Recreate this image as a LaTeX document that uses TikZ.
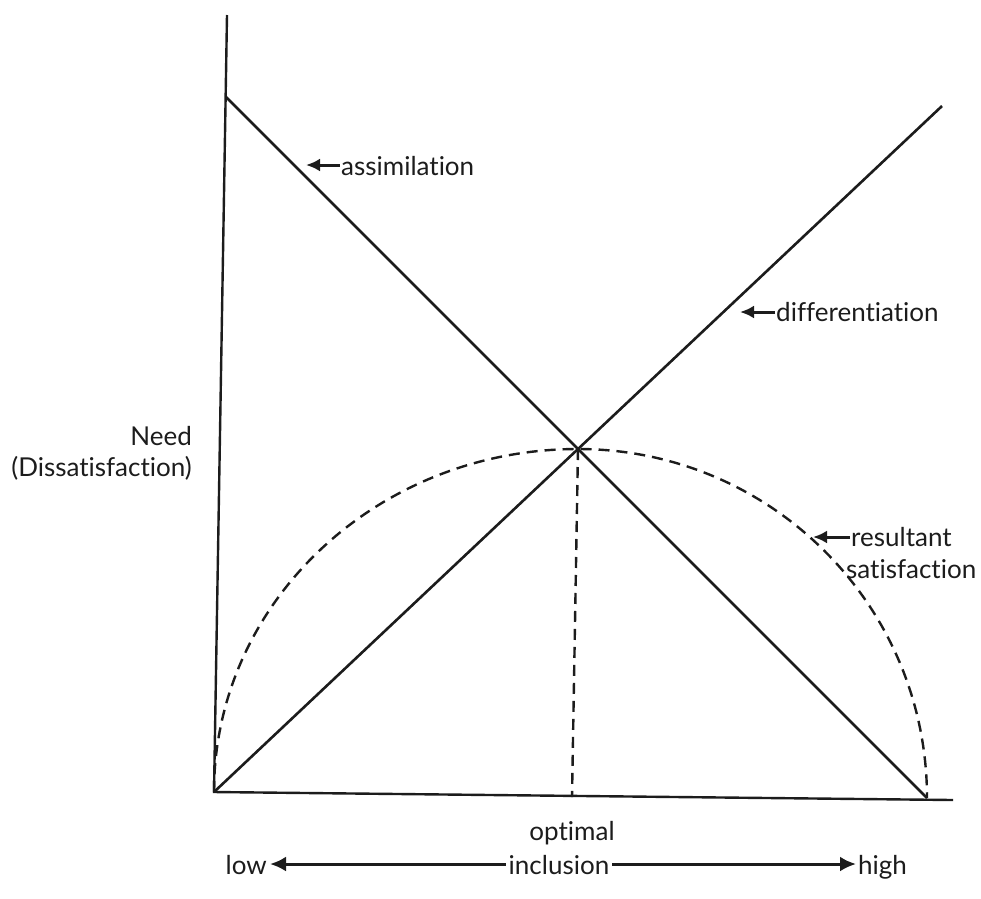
\documentclass[tikz,border=0pt]{standalone}
\usepackage{fontspec}
\setmainfont{Lato}[Ligatures=NoCommon]
\usetikzlibrary{arrows.meta}
\definecolor{ink}{HTML}{1C1C1C}
\begin{document}
\begin{tikzpicture}[x=1pt,y=-1pt,
  axis/.style={line width=2.4pt, draw=ink},
  curve/.style={line width=2.6pt, draw=ink},
  dashline/.style={line width=2.4pt, draw=ink, dash pattern=on 11pt off 7pt},
  lbl/.style={font=\fontsize{26}{31}\selectfont, text=ink, inner sep=0pt},
  ptr/.style={line width=3pt, draw=ink, -{Latex[length=14pt,width=13pt]}},
  bigptr/.style={line width=3pt, draw=ink, -{Latex[length=16pt,width=15pt]}},
]
\useasboundingbox (0,0) rectangle (981,898);
% axes
\coordinate (ytop) at (227,15);
\coordinate (origin) at (214,792);
\coordinate (xend) at (953,800);
\draw[axis] (ytop) -- (origin) -- (xend);
% lines
\coordinate (atop) at (226,97);
\coordinate (aend) at (927,798);
\coordinate (dend) at (942,106);
\draw[curve] (atop) -- (aend);
\draw[curve] (origin) -- (dend);
\coordinate (opt) at (intersection of atop--aend and origin--dend);
\coordinate (optbase) at (572,797);
% dashed curves
\draw[dashline] (origin) arc[start angle=180, end angle=270, x radius=364, y radius=343]
  arc[start angle=270, end angle=360, x radius=349, y radius=349];
\draw[dashline] (opt) -- (optbase);
% labels
\node[lbl, anchor=base west] (lassim) at (341,175) {assimilation};
\coordinate (passim) at (306,165);
\draw[ptr] (lassim.west |- passim) ++(-1,0) -- (passim);
\node[lbl, anchor=base west] (ldiff) at (776,321) {differentiation};
\coordinate (pdiff) at (740,312);
\draw[ptr] (ldiff.west |- pdiff) ++(-1,0) -- (pdiff);
\node[lbl, anchor=base west] (lres) at (851,546) {resultant};
\node[lbl, anchor=base west] (lsat) at (846,578) {satisfaction};
\coordinate (pres) at (813,537);
\draw[ptr] (lres.west |- pres) ++(-1,0) -- (pres);
\node[lbl, anchor=base east] (lneed) at (192,445) {Need};
\node[lbl, anchor=base east] (ldis) at (192,476) {(Dissatisfaction)};
\node[lbl, anchor=base] (lopt) at (572,840) {optimal};
\node[lbl, anchor=base] (lincl) at (559,874) {inclusion};
\node[lbl, anchor=base east] (llow) at (267,874) {low};
\node[lbl, anchor=base west] (lhigh) at (858,874) {high};
\coordinate (plow) at (270,864);
\coordinate (phigh) at (856,864);
\draw[bigptr] (lincl.west |- plow) ++(-3,0) -- (plow);
\draw[bigptr] (lincl.east |- phigh) ++(3,0) -- (phigh);
\end{tikzpicture}
\end{document}
